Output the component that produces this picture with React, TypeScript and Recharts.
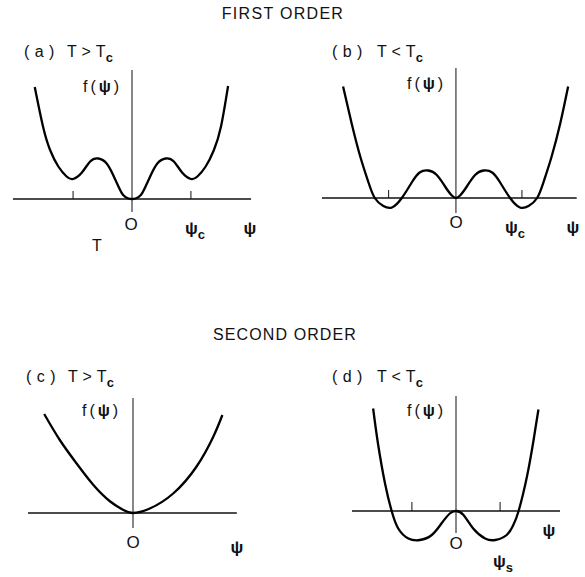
import { LineChart, Line, XAxis, YAxis, ReferenceLine } from 'recharts';

// (a) first order, T > Tc  — psi in units of psi_c
const psiA = [-1.65, -1.51, -1.39, -1.25, -1.11, -1.0, -0.85, -0.71, -0.57, -0.43, -0.32, -0.23, -0.15, -0.06, 0, 0.06, 0.15, 0.23, 0.32, 0.43, 0.57, 0.71, 0.85, 1.0, 1.11, 1.25, 1.39, 1.51, 1.63];
const fA = [2.24, 1.45, 0.98, 0.65, 0.45, 0.4, 0.53, 0.75, 0.81, 0.71, 0.48, 0.25, 0.08, 0.01, 0, 0.01, 0.08, 0.25, 0.48, 0.71, 0.81, 0.75, 0.53, 0.4, 0.45, 0.65, 0.98, 1.45, 2.26];

// (b) first order, T < Tc
const psiB = [-1.71, -1.58, -1.45, -1.33, -1.23, -1.1, -0.97, -0.82, -0.67, -0.55, -0.42, -0.29, -0.17, -0.07, 0, 0.07, 0.17, 0.29, 0.42, 0.55, 0.67, 0.82, 0.97, 1.1, 1.23, 1.33, 1.45, 1.58, 1.7];
const fB = [2.23, 1.49, 0.83, 0.33, 0, -0.16, -0.19, 0, 0.31, 0.51, 0.55, 0.46, 0.24, 0.06, 0, 0.06, 0.24, 0.46, 0.55, 0.51, 0.31, 0, -0.19, -0.16, 0, 0.33, 0.83, 1.49, 2.23];

// (c) second order, T > Tc
const psiC = [-1.48, -1.22, -0.94, -0.66, -0.38, -0.16, 0, 0.28, 0.67, 1.06, 1.34, 1.49];
const fC = [1.98, 1.46, 0.99, 0.56, 0.23, 0.06, 0, 0.09, 0.39, 0.93, 1.53, 1.96];

// (d) second order, T < Tc
const psiD = [-1.88, -1.77, -1.61, -1.46, -1.31, -1.08, -0.82, -0.55, -0.33, -0.14, 0, 0.17, 0.39, 0.66, 0.89, 1.15, 1.3, 1.42, 1.61, 1.76, 1.87];
const fD = [2.05, 1.35, 0.55, 0, -0.35, -0.55, -0.58, -0.48, -0.25, -0.05, 0, -0.08, -0.35, -0.55, -0.58, -0.48, -0.28, 0, 0.69, 1.42, 2.03];

const ticksA = [-1, 1];
const ticksB = [-1.02, 1];
const ticksD = [-1, 1];

const FONT = '"Liberation Sans", Arial, sans-serif';
const INK = '#111';

type PanelProps = {
  left: number;
  top: number;
  width: number;
  height: number;
  xDomain: [number, number];
  yDomain: [number, number];
  psi: number[];
  f: number[];
  axisX: [number, number];
  axisY: [number, number];
  ticks?: number[];
  tickH?: number;
};

const Panel = ({ left, top, width, height, xDomain, yDomain, psi, f, axisX, axisY, ticks = [], tickH = 0.16 }: PanelProps) => {
  const data = psi.map((p, i) => ({ psi: p, f: f[i] }));
  return (
    <div style={{ position: 'absolute', left, top }}>
      <LineChart width={width} height={height} data={data} margin={{ top: 0, right: 0, bottom: 0, left: 0 }}>
        <XAxis type="number" dataKey="psi" domain={xDomain} hide allowDataOverflow />
        <YAxis type="number" domain={yDomain} hide allowDataOverflow />
        <ReferenceLine segment={[{ x: axisX[0], y: 0 }, { x: axisX[1], y: 0 }]} stroke={INK} strokeWidth={1.5} />
        <ReferenceLine segment={[{ x: 0, y: axisY[0] }, { x: 0, y: axisY[1] }]} stroke={INK} strokeWidth={1} />
        {ticks.map((t) => (
          <ReferenceLine key={t} segment={[{ x: t, y: 0 }, { x: t, y: tickH }]} stroke={INK} strokeWidth={1} />
        ))}
        <Line type="natural" dataKey="f" stroke="#000" strokeWidth={2.3} dot={false} isAnimationActive={false} />
      </LineChart>
    </div>
  );
};

type LabelProps = {
  x: number;
  y: number;
  text: string;
  sub?: string;
  bold?: boolean;
  size?: number;
  subSize?: number;
  spacing?: number;
  anchor?: 'start' | 'middle' | 'end';
};

const Label = ({ x, y, text, sub, bold, size = 16, subSize, spacing = 0, anchor = 'start' }: LabelProps) => (
  <text x={x} y={y} fontFamily={FONT} fontSize={size} fontWeight={bold ? 700 : 400} letterSpacing={spacing} textAnchor={anchor} fill={INK} dominantBaseline="central">
    {text}
    {sub && (
      <tspan fontSize={subSize ?? size * 0.8} dy={size * 0.38} fontWeight={700}>
        {sub}
      </tspan>
    )}
  </text>
);

// f(ψ) with a bold psi
const FLabel = ({ x, y }: { x: number; y: number }) => (
  <text x={x} y={y} fontFamily={FONT} fontSize={16} fill={INK} dominantBaseline="central" letterSpacing={3}>
    f(<tspan fontWeight={700}>ψ</tspan>)
  </text>
);

export default function App() {
  return (
    <div style={{ position: 'absolute', left: 0, top: 0, width: 585, height: 577, background: '#fff', overflow: 'hidden' }}>
      <Panel left={10} top={66} width={244} height={150} xDomain={[-2.07, 2.07]} yDomain={[-0.34, 2.66]} psi={psiA} f={fA} axisX={[-2.02, 2.02]} axisY={[-0.26, 2.58]} ticks={ticksA} />
      <Panel left={318} top={64} width={264} height={150} xDomain={[-2.09, 1.91]} yDomain={[-0.32, 2.68]} psi={psiB} f={fB} axisX={[-2.03, 1.83]} axisY={[-0.3, 2.6]} ticks={ticksB} />
      <Panel left={25} top={394} width={216} height={136} xDomain={[-1.8, 1.8]} yDomain={[-0.34, 2.38]} psi={psiC} f={fC} axisX={[-1.75, 1.73]} axisY={[-0.3, 2.3]} />
      <Panel left={348} top={392} width={216} height={156} xDomain={[-2.45, 2.45]} yDomain={[-0.74, 2.38]} psi={psiD} f={fD} axisX={[-2.36, 2.36]} axisY={[-0.44, 2.3]} ticks={ticksD} tickH={0.18} />
      <svg width={585} height={577} style={{ position: 'absolute', left: 0, top: 0, pointerEvents: 'none' }}>
        <Label x={283} y={13} text="FIRST ORDER" anchor="middle" size={16} spacing={1.3} />
        <Label x={285} y={334} text="SECOND ORDER" anchor="middle" size={16} spacing={1.1} />

        <Label x={24} y={51} text="( a )" size={16} spacing={0.5} />
        <Label x={67} y={51} text="T > T" sub="c" size={16} subSize={13} spacing={0.3} />
        <Label x={332} y={51} text="( b )" size={16} spacing={0.5} />
        <Label x={377} y={51} text="T < T" sub="c" size={16} subSize={13} spacing={0.3} />
        <Label x={26} y={376} text="( c )" size={16} spacing={0.5} />
        <Label x={68} y={376} text="T > T" sub="c" size={16} subSize={13} spacing={0.3} />
        <Label x={332} y={376} text="( d )" size={16} spacing={0.5} />
        <Label x={377} y={376} text="T < T" sub="c" size={16} subSize={13} spacing={0.3} />

        <FLabel x={83} y={86} />
        <FLabel x={407} y={83} />
        <FLabel x={82} y={410} />
        <FLabel x={407} y={410} />

        <Label x={131} y={224} text="O" anchor="middle" size={17} />
        <Label x={185} y={228} text="ψ" sub="c" size={17} subSize={13} bold />
        <Label x={250} y={228} text="ψ" anchor="middle" size={17} bold />
        <Label x={97} y={245} text="T" anchor="middle" size={16} />

        <Label x={456} y={222} text="O" anchor="middle" size={17} />
        <Label x={505} y={227} text="ψ" sub="c" size={17} subSize={13} bold />
        <Label x={573} y={227} text="ψ" anchor="middle" size={17} bold />

        <Label x={133} y={542} text="O" anchor="middle" size={17} />
        <Label x={237} y={547} text="ψ" anchor="middle" size={17} bold />

        <Label x={456} y={543} text="O" anchor="middle" size={17} />
        <Label x={493} y={561} text="ψ" sub="s" size={17} subSize={13} bold />
        <Label x={549} y={530} text="ψ" anchor="middle" size={17} bold />
      </svg>
    </div>
  );
}
